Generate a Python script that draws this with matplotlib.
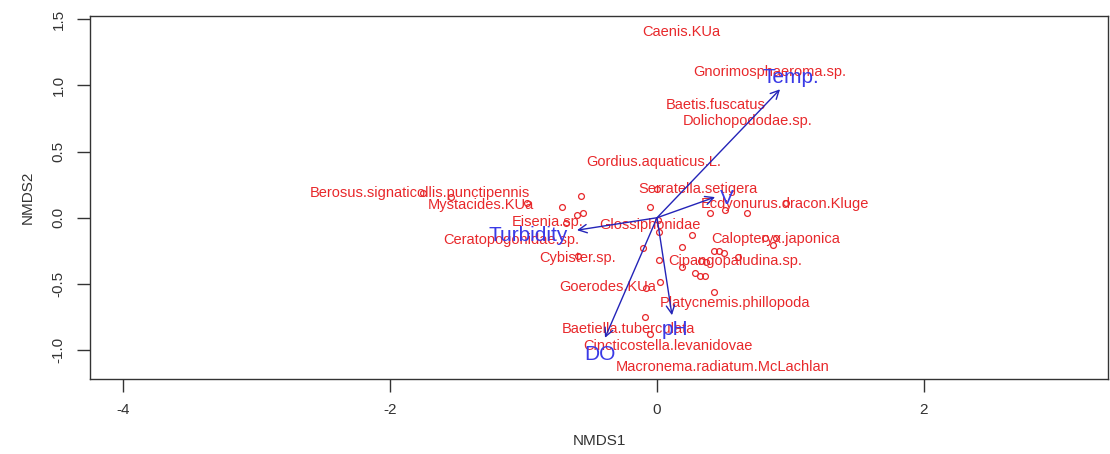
#!/usr/bin/env python3
import matplotlib
matplotlib.use("Agg")
import matplotlib.pyplot as plt

plt.rcParams["font.family"] = ["Liberation Sans", "DejaVu Sans"]

# site scores (open circles)
site_x = [-1.754, -1.544, -0.975, -0.570, -0.712, -0.600, -0.555, -0.682, -0.592,
          -0.052, 0.000, 0.007, 0.015, 0.262, 0.187, -0.105, 0.015, 0.187, 0.330,
          0.367, 0.397, 0.510, 0.675, 0.967, 0.427, 0.465, 0.502, 0.607, 0.810,
          0.870, 0.892, 0.285, 0.322, 0.360, 0.022, -0.082, 0.427, -0.090, -0.052]
site_y = [0.186, 0.156, 0.110, 0.163, 0.080, 0.020, 0.035, -0.042, -0.290,
          0.080, 0.216, -0.018, -0.109, -0.131, -0.222, -0.230, -0.321, -0.374, -0.329,
          -0.336, 0.035, 0.057, 0.035, 0.110, -0.252, -0.252, -0.268, -0.298, -0.155,
          -0.208, -0.155, -0.420, -0.443, -0.443, -0.488, -0.533, -0.563, -0.752, -0.881]

# species scores (red labels)
species = ["Caenis.KUa", "Gnorimosphaeroma.sp.", "Baetis.fuscatus", "Dolichopododae.sp.",
           "Gordius.aquaticus.L.", "Serratella.setigera", "Ecdyonurus.dracon.Kluge",
           "Glossiphonidae", "Calopteryx.japonica", "Cipangopaludina.sp.", "Cybister.sp.",
           "Goerodes.KUa", "Berosus.signaticollis.punctipennis", "Mystacides.KUa",
           "Eisenia.sp.", "Ceratopogonidae.sp.", "Platycnemis.phillopoda",
           "Baetiella.tuberculata", "Cincticostella.levanidovae",
           "Macronema.radiatum.McLachlan"]
sp_x = [0.180, 0.847, 0.442, 0.682, -0.022, 0.307, 0.960, -0.052, 0.892, 0.585,
        -0.592, -0.367, -1.777, -1.319, -0.817, -1.094, 0.585, -0.217, 0.082, 0.495]
sp_y = [1.402, 1.100, 0.850, 0.730, 0.420, 0.216, 0.103, -0.056, -0.162, -0.328,
        -0.306, -0.523, 0.186, 0.095, -0.034, -0.169, -0.646, -0.840, -0.970, -1.128]

# environmental vectors (envfit)
env = ["Temp.", "V", "Turbidity", "pH", "DO"]
env_x = [0.922, 0.435, -0.600, 0.112, -0.390]
env_y = [0.971, 0.156, -0.094, -0.737, -0.908]
env_lx = [1.005, 0.525, -0.967, 0.135, -0.427]
env_ly = [1.062, 0.148, -0.131, -0.847, -1.036]

red = "#e8282b"
blue_line = "#2424b8"
blue_txt = "#3a3ae6"

fig = plt.figure(figsize=(11.1, 4.54), dpi=100)
ax = fig.add_axes([90 / 1110, 1 - 379 / 454, 1018 / 1110, 363 / 454])

ax.plot(site_x, site_y, "o", mfc="none", mec=red, ms=4.2, mew=0.9)

for name, x, y in zip(species, sp_x, sp_y):
    ax.text(x, y, name, color=red, fontsize=10.5, ha="center", va="center")

for name, x, y, lx, ly in zip(env, env_x, env_y, env_lx, env_ly):
    ax.annotate("", xy=(x, y), xytext=(0, 0),
                arrowprops=dict(arrowstyle="->,head_length=0.6,head_width=0.3",
                                color=blue_line, lw=1.0, shrinkA=0, shrinkB=0,
                                mutation_scale=10))
    ax.text(lx, ly, name, color=blue_txt, fontsize=15, ha="center", va="center")

ax.set_xlim(-4.25, 3.38)
ax.set_ylim(-1.219, 1.525)
ax.set_xticks([-4, -2, 0, 2])
ax.set_xticklabels(["-4", "-2", "0", "2"])
ax.set_yticks([-1.0, -0.5, 0.0, 0.5, 1.0, 1.5])
ax.set_yticklabels(["-1.0", "-0.5", "0.0", "0.5", "1.0", "1.5"], rotation=90, va="center")
ax.tick_params(direction="out", length=9.4, width=1, colors="#333333",
               labelsize=11, pad=8)
for s in ax.spines.values():
    s.set_color("#333333")
    s.set_linewidth(1)

ax.set_xlabel("NMDS1", fontsize=11, color="#333333", labelpad=12)
ax.set_ylabel("NMDS2", fontsize=11, color="#333333", labelpad=12)

fig.savefig("out.png", dpi=100)
